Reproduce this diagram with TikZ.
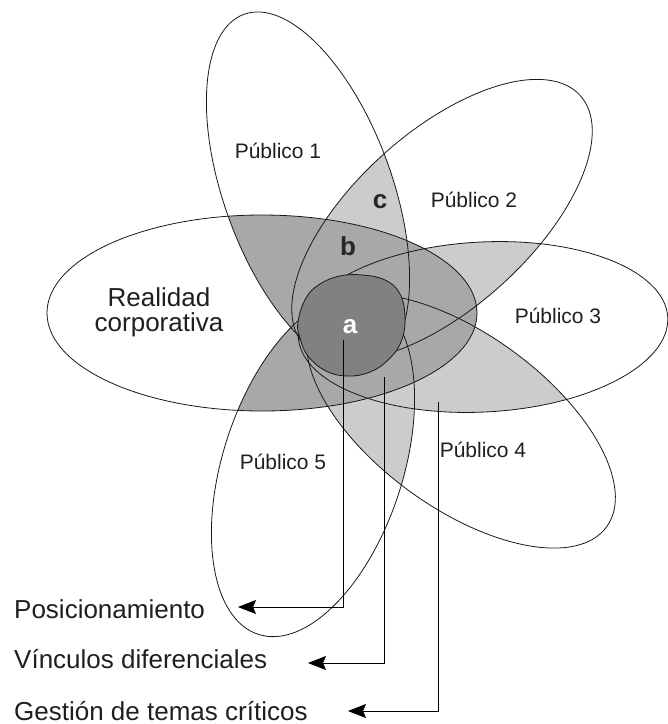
\documentclass[tikz,border=0pt]{standalone}
\usepackage{fontspec}
\setmainfont{Liberation Sans}
\usetikzlibrary{arrows.meta}
\definecolor{lightg}{RGB}{204,204,204}
\definecolor{midg}{RGB}{168,168,168}
\definecolor{darkg}{RGB}{130,128,130}
\newcommand\EReal{(262,313) ellipse [x radius=215, y radius=98]}
\newcommand\EPa{(308,190) ellipse [x radius=84, y radius=187, rotate=20]}
\newcommand\EPb{(442,220) ellipse [x radius=186, y radius=88, rotate=42]}
\newcommand\EPc{(483,327) ellipse [x radius=185, y radius=85, rotate=3]}
\newcommand\EPd{(461,421) ellipse [x radius=180, y radius=87, rotate=-36]}
\newcommand\EPe{(313,466) ellipse [x radius=90, y radius=177, rotate=-18]}
\tikzset{
  outl/.style={draw=black!90, line width=0.8pt},
  publbl/.style={font=\fontsize{21}{24}\selectfont, text=black!88, inner sep=0pt, anchor=base},
  letlbl/.style={font=\bfseries\fontsize{26}{28}\selectfont, inner sep=0pt, anchor=base},
  biglbl/.style={font=\fontsize{26}{25}\selectfont, text=black!88, inner sep=0pt},
  conn/.style={draw=black, line width=0.8pt, -{Stealth[length=18pt, width=14pt, inset=3pt]}}
}
\begin{document}
\begin{tikzpicture}[x=1pt, y=-1pt]
\useasboundingbox (0,0) rectangle (668,724);
% light gray: overlaps of two publics
\begin{scope}\clip \EPa; \fill[lightg] \EPb; \end{scope}
\begin{scope}\clip \EPa; \fill[lightg] \EPc; \end{scope}
\begin{scope}\clip \EPa; \fill[lightg] \EPd; \end{scope}
\begin{scope}\clip \EPa; \fill[lightg] \EPe; \end{scope}
\begin{scope}\clip \EPb; \fill[lightg] \EPc; \end{scope}
\begin{scope}\clip \EPb; \fill[lightg] \EPd; \end{scope}
\begin{scope}\clip \EPb; \fill[lightg] \EPe; \end{scope}
\begin{scope}\clip \EPc; \fill[lightg] \EPd; \end{scope}
\begin{scope}\clip \EPc; \fill[lightg] \EPe; \end{scope}
\begin{scope}\clip \EPd; \fill[lightg] \EPe; \end{scope}
% medium gray: corporate reality shared with publics
\begin{scope}
  \clip \EReal;
  \fill[midg] \EPa; \fill[midg] \EPb; \fill[midg] \EPc;
  \fill[midg] \EPd; \fill[midg] \EPe;
\end{scope}
% outlines
\draw[outl] \EReal;
\draw[outl] \EPa;
\draw[outl] \EPb;
\draw[outl] \EPc;
\draw[outl] \EPd;
\draw[outl] \EPe;
% core a
\filldraw[fill=darkg, outl] plot[smooth cycle, tension=0.7] coordinates {
  (298,322) (306,298) (320,284) (340,276) (362,275) (385,280) (400,294)
  (405,318) (401,342) (388,360) (370,372) (348,376) (326,371) (308,356) (300,338)};
% labels
\node[publbl] (p1) at (278,158) {Público 1};
\node[publbl] (p2) at (474,207) {Público 2};
\node[publbl] (p3) at (558,323) {Público 3};
\node[publbl] (p4) at (483,457) {Público 4};
\node[publbl] (p5) at (283,469) {Público 5};
\node[biglbl, align=center] (real) at (159,312) {Realidad\\corporativa};
\node[letlbl, text=white] (la) at (350,333) {a};
\node[letlbl, text=black!85] (lb) at (348,255) {b};
\node[letlbl, text=black!85] (lc) at (380,208) {c};
\node[biglbl, anchor=base west] (pos) at (14,618) {Posicionamiento};
\node[biglbl, anchor=base west] (vin) at (14,668) {Vínculos diferenciales};
\node[biglbl, anchor=base west] (ges) at (14,720) {Gestión de temas críticos};
% connectors
\coordinate (sa) at (343,340);
\coordinate (sb) at (384,377);
\coordinate (sc) at (438,402);
\coordinate (ta) at (238,607);
\coordinate (tb) at (308,663);
\coordinate (tc) at (348,711);
\draw[conn] (sa) |- (ta);
\draw[conn] (sb) |- (tb);
\draw[conn] (sc) |- (tc);
\end{tikzpicture}
\end{document}
